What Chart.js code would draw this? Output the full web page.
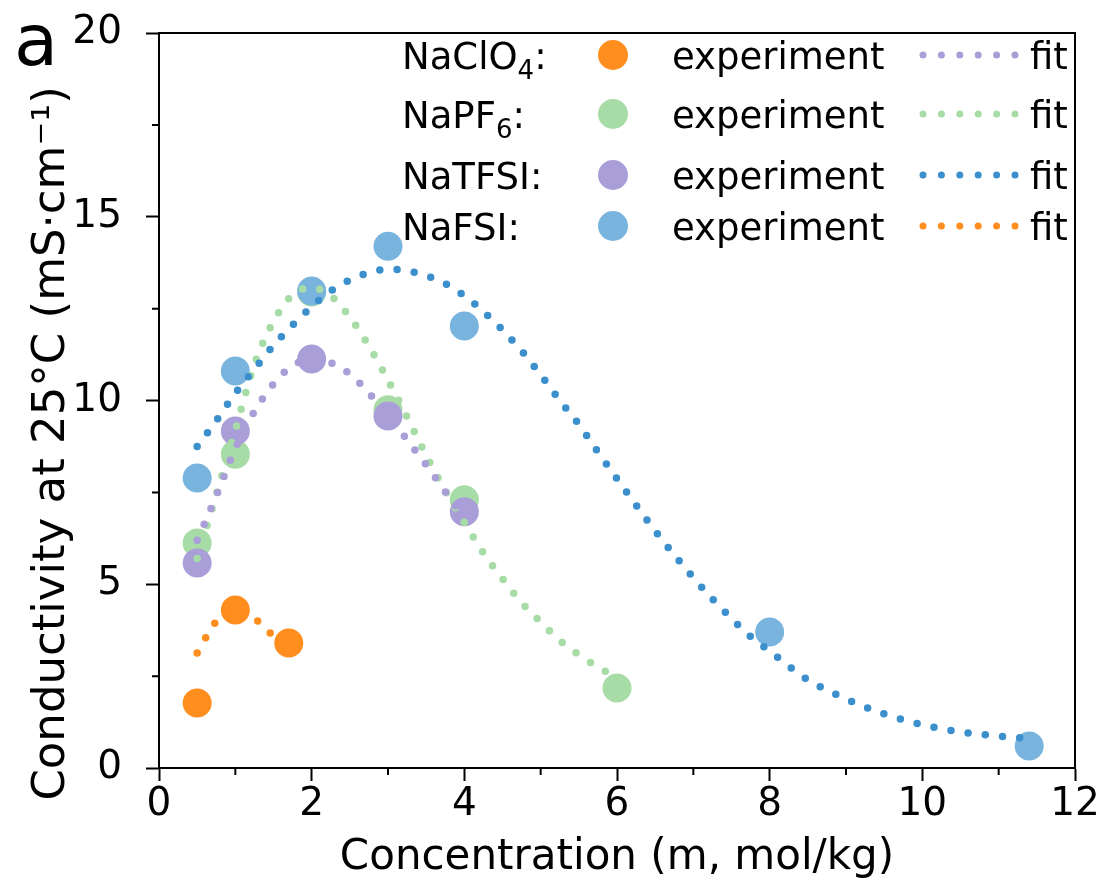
<!DOCTYPE html>
<html>
<head>
<meta charset="utf-8">
<script src="https://cdn.jsdelivr.net/npm/chart.js@4"></script>
<style>
  html, body { margin: 0; padding: 0; background: #fff; }
  canvas { display: block; }
</style>
</head>
<body>
<canvas id="condChart" width="1107" height="891"></canvas>
<script>
// measured conductivities (mS/cm) vs molality (mol/kg)
const clo4X = [0.5, 1, 1.7];
const clo4Y = [1.77, 4.3, 3.4];
const pf6X = [0.5, 1, 2, 3, 4, 6];
const pf6Y = [6.12, 8.54, 12.95, 9.75, 7.3, 2.18];
const tfsiX = [0.5, 1, 2, 3, 4];
const tfsiY = [5.58, 9.17, 11.13, 9.58, 6.97];
const fsiX = [0.5, 1, 2, 3, 4, 8, 11.4];
const fsiY = [7.89, 10.8, 12.98, 14.2, 12.03, 3.7, 0.6];

// fitted curves
const clo4FitX = [0.5, 0.6, 0.7, 0.8, 0.9, 1.0, 1.1, 1.2, 1.3, 1.4, 1.5, 1.6, 1.7];
const clo4FitY = [3.13, 3.5, 3.85, 4.12, 4.28, 4.33, 4.28, 4.15, 3.99, 3.8, 3.58, 3.42, 3.28];
const pf6FitX = [0.5, 0.75, 1, 1.25, 1.5, 1.75, 2, 2.25, 2.5, 2.75, 3, 3.25, 3.5, 3.75, 4, 4.25, 4.5, 4.75, 5, 5.25, 5.5, 5.75, 6];
const pf6FitY = [5.7, 7.44, 9.2, 10.98, 12.15, 12.88, 13.07, 12.85, 12.27, 11.48, 10.55, 9.55, 8.5, 7.55, 6.68, 5.85, 5.15, 4.5, 3.97, 3.47, 3.08, 2.75, 2.45];
const tfsiFitX = [0.5, 0.75, 1, 1.25, 1.5, 1.75, 2, 2.25, 2.5, 2.75, 3, 3.25, 3.5, 3.75, 4];
const tfsiFitY = [6.2, 7.4, 8.7, 9.7, 10.45, 10.95, 11.12, 11.03, 10.72, 10.2, 9.6, 8.93, 8.25, 7.52, 6.8];
const fsiFitX = [0.5, 0.75, 1, 1.25, 1.5, 1.75, 2, 2.25, 2.5, 2.75, 3, 3.25, 3.5, 3.75, 4, 4.25, 4.5, 4.75, 5, 5.25, 5.5, 5.75, 6, 6.25, 6.5, 6.75, 7, 7.25, 7.5, 7.75, 8, 8.5, 9, 9.5, 10, 10.5, 11, 11.4];
const fsiFitY = [8.75, 9.45, 10.2, 10.85, 11.5, 12.05, 12.55, 12.98, 13.28, 13.48, 13.57, 13.53, 13.4, 13.18, 12.85, 12.42, 11.92, 11.35, 10.7, 10.0, 9.35, 8.6, 7.87, 7.15, 6.45, 5.8, 5.18, 4.6, 4.07, 3.58, 3.18, 2.4, 1.88, 1.47, 1.18, 0.98, 0.87, 0.8];

// axis ticks
const xTickValues = [0, 2, 4, 6, 8, 10, 12];
const xMinorValues = [1, 3, 5, 7, 9, 11];
const yTickValues = [0, 5, 10, 15, 20];
const yMinorValues = [2.5, 7.5, 12.5, 17.5];

const ORANGE = '#ff8e1f';
const GREEN = '#a8dca6';
const PURPLE = '#a99ed8';
const BLUE = '#79b4de';
const BLUE_FIT = '#3a8fcc';
const FONT = '"DejaVu Sans"';

const pts = (xs, ys) => xs.map((x, i) => ({ x: x, y: ys[i] }));

function fitSet(label, xs, ys, color) {
  return {
    label: label, type: 'line', data: pts(xs, ys),
    borderColor: color, borderWidth: 7.5, borderDash: [0, 17.3], borderCapStyle: 'round',
    pointRadius: 0, cubicInterpolationMode: 'monotone', fill: false
  };
}
function expSet(label, xs, ys, color) {
  return {
    label: label, data: pts(xs, ys), showLine: false,
    backgroundColor: color, borderWidth: 0, pointRadius: 14.5, pointHoverRadius: 14.5
  };
}

const legendRows = [
  { name: 'NaClO', sub: '4', dot: ORANGE, fit: PURPLE, y: 55 },
  { name: 'NaPF', sub: '6', dot: GREEN, fit: GREEN, y: 114 },
  { name: 'NaTFSI', sub: '', dot: PURPLE, fit: BLUE_FIT, y: 175 },
  { name: 'NaFSI', sub: '', dot: BLUE, fit: ORANGE, y: 226 }
];

const decorations = {
  id: 'decorations',
  afterDraw(chart) {
    const { ctx, chartArea: a, scales } = chart;
    ctx.save();
    ctx.strokeStyle = '#000';
    ctx.lineWidth = 2;
    ctx.beginPath();
    xMinorValues.forEach(v => {
      const px = scales.x.getPixelForValue(v);
      ctx.moveTo(px, a.bottom); ctx.lineTo(px, a.bottom + 7);
    });
    yMinorValues.forEach(v => {
      const py = scales.y.getPixelForValue(v);
      ctx.moveTo(a.left, py); ctx.lineTo(a.left - 7, py);
    });
    // box on top and right
    ctx.moveTo(a.left, a.top); ctx.lineTo(a.right, a.top); ctx.lineTo(a.right, a.bottom);
    ctx.stroke();

    // legend
    ctx.fillStyle = '#000';
    ctx.textBaseline = 'alphabetic';
    legendRows.forEach(r => {
      const base = r.y + 14;
      ctx.font = '37px ' + FONT;
      ctx.fillText(r.name, 402, base);
      let x = 402 + ctx.measureText(r.name).width;
      if (r.sub) {
        ctx.font = '26px ' + FONT;
        ctx.fillText(r.sub, x, base + 10);
        x += ctx.measureText(r.sub).width;
        ctx.font = '37px ' + FONT;
      }
      ctx.fillText(':', x, base);
      ctx.fillText('experiment', 672, base);
      ctx.fillText('fit', 1030, base);

      ctx.fillStyle = r.dot;
      ctx.beginPath();
      ctx.arc(613, r.y, 15, 0, Math.PI * 2);
      ctx.fill();
      ctx.fillStyle = '#000';

      ctx.strokeStyle = r.fit;
      ctx.lineWidth = 7;
      ctx.lineCap = 'round';
      ctx.setLineDash([0, 18.4]);
      ctx.beginPath();
      ctx.moveTo(923, r.y); ctx.lineTo(1016, r.y);
      ctx.stroke();
      ctx.setLineDash([]);
    });

    // panel letter
    ctx.font = '72px ' + FONT;
    ctx.fillText('a', 14, 65);
    ctx.restore();
  }
};

new Chart(document.getElementById('condChart'), {
  type: 'scatter',
  data: {
    datasets: [
      fitSet('NaClO4 fit', clo4FitX, clo4FitY, ORANGE),
      fitSet('NaFSI fit', fsiFitX, fsiFitY, BLUE_FIT),
      fitSet('NaTFSI fit', tfsiFitX, tfsiFitY, PURPLE),
      fitSet('NaPF6 fit', pf6FitX, pf6FitY, GREEN),
      expSet('NaFSI', fsiX, fsiY, BLUE),
      expSet('NaTFSI', tfsiX, tfsiY, PURPLE),
      expSet('NaPF6', pf6X, pf6Y, GREEN),
      expSet('NaClO4', clo4X, clo4Y, ORANGE)
    ]
  },
  options: {
    responsive: false,
    animation: false,
    devicePixelRatio: 1,
    layout: { padding: { top: 33, right: 32, left: 0, bottom: 0 } },
    plugins: { legend: { display: false }, tooltip: { enabled: false } },
    scales: {
      x: {
        type: 'linear', min: 0, max: 12,
        afterBuildTicks: s => { s.ticks = xTickValues.map(v => ({ value: v })); },
        afterFit: s => { s.height = 123; s.paddingLeft = 0; s.paddingRight = 0; },
        grid: { drawOnChartArea: false, tickLength: 13, tickWidth: 2, tickColor: '#000' },
        border: { display: true, color: '#000', width: 2 },
        ticks: { color: '#000', padding: 0, maxRotation: 0, font: { family: 'DejaVu Sans', size: 39 } },
        title: { display: true, text: 'Concentration (m, mol/kg)', color: '#000', padding: { bottom: 8 }, font: { family: 'DejaVu Sans', size: 42 } }
      },
      y: {
        type: 'linear', min: 0, max: 20,
        afterBuildTicks: s => { s.ticks = yTickValues.map(v => ({ value: v })); },
        afterFit: s => { s.width = 159; s.paddingTop = 0; s.paddingBottom = 0; },
        grid: { drawOnChartArea: false, tickLength: 13, tickWidth: 2, tickColor: '#000' },
        border: { display: true, color: '#000', width: 2 },
        ticks: { color: '#000', padding: 24, font: { family: 'DejaVu Sans', size: 39 } },
        title: { display: true, text: 'Conductivity at 25°C (mS·cm⁻¹)      ', color: '#000', padding: { top: 25 }, font: { family: 'DejaVu Sans', size: 45 } }
      }
    }
  },
  plugins: [decorations]
});
</script>
</body>
</html>
